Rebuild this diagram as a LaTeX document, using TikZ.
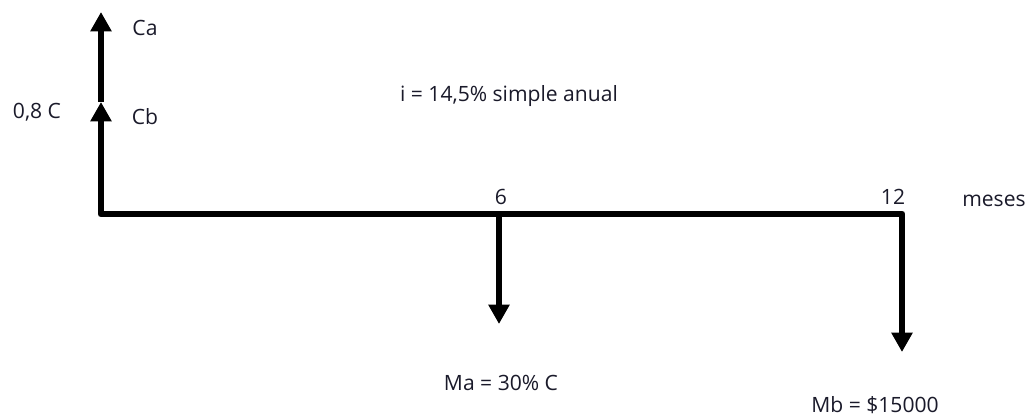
\documentclass[tikz,border=0pt]{standalone}
\usepackage{fontspec}
\setmainfont{Open Sans}
\usetikzlibrary{arrows.meta,positioning}
\definecolor{FlowInk}{HTML}{1A1A2A}
\begin{document}
\begin{tikzpicture}[x=0.02cm,y=-0.02cm]
    \tikzset{flow/.style={line width=3.8pt,line join=round,-{Triangle[length=11pt,width=11.5pt]}},
      lbl/.style={font=\fontsize{12}{14}\selectfont,text=FlowInk,inner sep=0pt}}
    \useasboundingbox (0,0) rectangle (1029,418);
    % time line and cash flows
    \coordinate (o) at (101,214);
    \coordinate (m6) at (499,214);
    \coordinate (m12) at (902,214);
    \coordinate (cb) at (101,102);
    \coordinate (ca) at (101,12);
    \coordinate (ma) at (499,324);
    \coordinate (mb) at (902,352);
    \draw[flow,{Triangle[length=11pt,width=11.5pt]}-{Triangle[length=11pt,width=11.5pt]}]
      (cb) -- (o) -- (m12) -- (mb);
    \draw[flow] (cb) -- (ca);
    \draw[flow] (m6) -- (ma);
    % labels
    \node[lbl] (caL) at (145,28) {Ca};
    \node[lbl] (cbL) at (145,117) {Cb};
    \node[lbl] (cL) at (37,112) {0,8 C};
    \node[lbl] (rate) at (509,96) {i = 14,5\% simple anual};
    \node[lbl] (t6) at (501,197) {6};
    \node[lbl] (t12) at (893,197) {12};
    \node[lbl] (unit) at (994,201) {meses};
    \node[lbl] (maL) at (501,383) {Ma = 30\% C};
    \node[lbl] (mbL) at (875,405) {Mb = \$15000};
\end{tikzpicture}
\end{document}
